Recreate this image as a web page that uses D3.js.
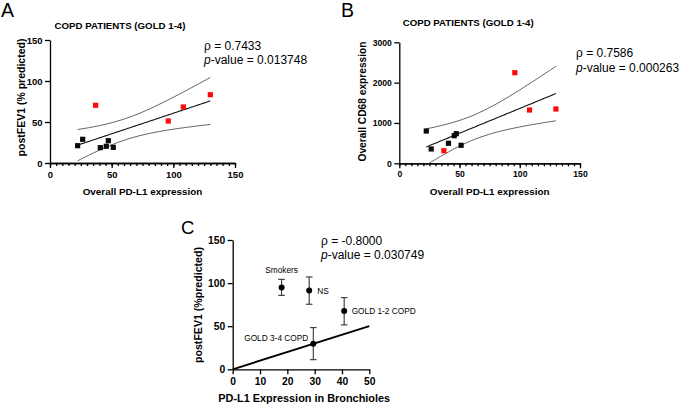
<!DOCTYPE html>
<html><head><meta charset="utf-8">
<script src="https://cdn.jsdelivr.net/npm/d3@7"></script>
<style>
body{margin:0;background:#fff;}
svg{display:block;font-family:"Liberation Sans",Arial,Helvetica,sans-serif;}
.ax path,.ax line{stroke:#000;stroke-width:1.3px;}
.ax text{font-weight:bold;fill:#000;}
</style></head>
<body>
<svg id="c" width="685" height="406"></svg>
<script>
// ---- Data ----
// Panel A & B: PD-L1 expression (x) per patient; group: 0 = black, 1 = red
const pdl1 = [22.4, 26.5, 40.8, 45.6, 47.3, 51.3, 37.0, 95.9, 108.1, 130.0];
const group = [0, 0, 0, 0, 0, 0, 1, 1, 1, 1];
const fev1A = [21.1, 28.9, 18.7, 20.4, 27.2, 19.1, 70.4, 51.2, 68.3, 83.3];
const cd68B = [801, 355, 496, 684, 734, 446, 312, 2246, 1321, 1346];
const statsA = ["ρ = 0.7433", "0.013748"];
const statsB = ["ρ = 0.7586", "0.000263"];
// Panel C
const groupsC = ["Smokers", "NS", "GOLD 1-2 COPD", "GOLD 3-4 COPD"];
const pdl1C = [17.9, 28.0, 40.8, 29.5];
const fev1C = [95.0, 91.5, 67.5, 29.5];
const errLoC = [85.8, 75.5, 51.5, 11.1];
const errHiC = [104.4, 107.1, 83.1, 48.3];
const lineC = [[0, 0], [50, 50]];
const statsC = ["ρ = -0.8000", "0.030749"];
const tCrit = 2.306; // t(0.975, df = 8)

const svg = d3.select("#c");

function regression(xs, ys) {
  const n = xs.length, mx = d3.mean(xs), my = d3.mean(ys);
  let sxx = 0, sxy = 0;
  xs.forEach((x, i) => { sxx += (x - mx) ** 2; sxy += (x - mx) * (ys[i] - my); });
  const b = sxy / sxx, a = my - b * mx;
  let sse = 0;
  xs.forEach((x, i) => { sse += (ys[i] - (a + b * x)) ** 2; });
  const s = Math.sqrt(sse / (n - 2));
  return { a, b, band: x => tCrit * s * Math.sqrt(1 / n + (x - mx) ** 2 / sxx) };
}

function stats(x, y, lines, fs) {
  const t = svg.append("g").attr("font-size", fs);
  t.append("text").attr("x", x).attr("y", y).text(lines[0]);
  const p = t.append("text").attr("x", x).attr("y", y + 14.2);
  p.append("tspan").attr("font-style", "italic").text("p");
  p.append("tspan").text("-value = " + lines[1]);
}

function styleAxis(g, fs) {
  g.attr("font-family", null).attr("font-size", fs);
}

function scatterPanel(o) {
  const x = d3.scaleLinear().domain([0, 150]).range([o.x0, o.x1]);
  const y = d3.scaleLinear().domain([0, o.ymax]).range([o.y0, o.y1]);
  svg.append("g").attr("class", "ax").attr("transform", `translate(0,${o.y0})`)
    .call(d3.axisBottom(x).tickValues(d3.range(0, 151, 5)).tickSize(3).tickSizeOuter(0).tickFormat(""));
  svg.append("g").attr("class", "ax").attr("transform", `translate(0,${o.y0})`)
    .call(d3.axisBottom(x).tickValues([0, 50, 100, 150]).tickSize(5).tickSizeOuter(0).tickPadding(3))
    .call(styleAxis, o.tfs);
  svg.append("g").attr("class", "ax").attr("transform", `translate(${o.x0},0)`)
    .call(d3.axisLeft(y).tickValues(o.yt).tickFormat(d3.format("d")).tickSize(5).tickSizeOuter(0).tickPadding(2.5))
    .call(styleAxis, o.tfs);

  const r = regression(pdl1, o.ys);
  const xs = d3.range(0, 101).map(i => d3.min(pdl1) + (d3.max(pdl1) - d3.min(pdl1)) * i / 100);
  const ln = d3.line().x(d => x(d[0])).y(d => y(d[1]));
  svg.append("path").attr("d", ln(xs.map(v => [v, r.a + r.b * v]))).attr("fill", "none").attr("stroke", "#111").attr("stroke-width", 1.1);
  svg.append("path").attr("d", ln(xs.map(v => [v, r.a + r.b * v + r.band(v)]))).attr("fill", "none").attr("stroke", "#333").attr("stroke-width", 0.8);
  svg.append("path").attr("d", ln(xs.map(v => [v, r.a + r.b * v - r.band(v)]))).attr("fill", "none").attr("stroke", "#333").attr("stroke-width", 0.8);

  const sz = 5.2;
  svg.append("g").selectAll("rect").data(pdl1).join("rect")
    .attr("x", (d) => x(d) - sz / 2).attr("y", (d, i) => y(o.ys[i]) - sz / 2)
    .attr("width", sz).attr("height", sz)
    .attr("fill", (d, i) => group[i] ? "#ff0a0a" : "#0a0a0a");

  svg.append("text").attr("x", o.lx).attr("y", 17).attr("font-size", 19.5).text(o.letter);
  svg.append("text").attr("x", (o.x0 + o.x1) / 2 + o.tdx).attr("y", o.ty).attr("text-anchor", "middle")
    .attr("font-size", 9.7).attr("font-weight", "bold").text("COPD PATIENTS (GOLD 1-4)");
  svg.append("text").attr("x", (o.x0 + o.x1) / 2).attr("y", 194.5).attr("text-anchor", "middle")
    .attr("font-size", 9.9).attr("font-weight", "bold").text("Overall PD-L1 expression");
  svg.append("text").attr("transform", `translate(${o.ylx},${o.ylc}) rotate(-90)`).attr("text-anchor", "middle")
    .attr("font-size", o.ylfs).attr("font-weight", "bold").text(o.ylab);
  stats(o.sx, o.sy, o.stats, 12);
}

scatterPanel({ x0: 50, x1: 235, y0: 163, y1: 40, ymax: 150, yt: [0, 50, 100, 150], ys: fev1A, tfs: 9.5,
  letter: "A", lx: 1, ty: 28.5, tdx: -22.5, ylab: "postFEV1 (% predicted)", ylx: 24.5, ylc: 97.5, ylfs: 10.5,
  sx: 204, sy: 50, stats: statsA });
scatterPanel({ x0: 399.3, x1: 580, y0: 163.3, y1: 42.3, ymax: 3000, yt: [0, 1000, 2000, 3000], ys: cd68B, tfs: 8.6,
  letter: "B", lx: 341, ty: 26, tdx: -21.5, ylab: "Overall CD68 expression", ylx: 366, ylc: 101.5, ylfs: 10.2,
  sx: 576, sy: 57.3, stats: statsB });

// ---- Panel C ----
(function () {
  const x = d3.scaleLinear().domain([0, 50]).range([232.7, 369.3]);
  const y = d3.scaleLinear().domain([0, 150]).range([369.3, 240]);
  svg.append("g").attr("class", "ax").attr("transform", "translate(0,369.3)")
    .call(d3.axisBottom(x).tickValues([0, 10, 20, 30, 40, 50]).tickSize(5).tickSizeOuter(0).tickPadding(3.5))
    .call(styleAxis, 10.3);
  svg.append("g").attr("class", "ax").attr("transform", "translate(232.7,0)")
    .call(d3.axisLeft(y).tickValues([0, 50, 100, 150]).tickSize(5).tickSizeOuter(0).tickPadding(2.5))
    .call(styleAxis, 10.3);
  svg.append("path").attr("d", d3.line().x(d => x(d[0])).y(d => y(d[1]))(lineC))
    .attr("stroke", "#000").attr("stroke-width", 1.9).attr("fill", "none");
  const g = svg.append("g");
  groupsC.forEach((name, i) => {
    const cx = x(pdl1C[i]);
    g.append("line").attr("x1", cx).attr("x2", cx).attr("y1", y(errLoC[i])).attr("y2", y(errHiC[i])).attr("stroke", "#222").attr("stroke-width", 1);
    [errLoC[i], errHiC[i]].forEach(v => g.append("line").attr("x1", cx - 3.3).attr("x2", cx + 3.3).attr("y1", y(v)).attr("y2", y(v)).attr("stroke", "#222").attr("stroke-width", 1));
    g.append("circle").attr("cx", cx).attr("cy", y(fev1C[i])).attr("r", 3).attr("fill", "#000");
  });
  const lab = svg.append("g").attr("font-size", 8.3);
  lab.append("text").attr("x", x(pdl1C[0])).attr("y", y(fev1C[0]) - 14).attr("text-anchor", "middle").text(groupsC[0]);
  lab.append("text").attr("x", x(pdl1C[1]) + 8).attr("y", y(fev1C[1]) + 3.5).text(groupsC[1]);
  lab.append("text").attr("x", x(pdl1C[2]) + 7.5).attr("y", y(fev1C[2]) + 3).text(groupsC[2]);
  lab.append("text").attr("x", x(pdl1C[3]) - 5).attr("y", y(fev1C[3]) - 3).attr("text-anchor", "end").text(groupsC[3]);

  svg.append("text").attr("x", 181).attr("y", 233.5).attr("font-size", 18.5).text("C");
  svg.append("text").attr("x", 304.2).attr("y", 402.3).attr("text-anchor", "middle")
    .attr("font-size", 10.9).attr("font-weight", "bold").text("PD-L1 Expression in Bronchioles");
  svg.append("text").attr("transform", "translate(201.5,305) rotate(-90)").attr("text-anchor", "middle")
    .attr("font-size", 10.6).attr("font-weight", "bold").text("postFEV1 (%predicted)");
  stats(321, 245, statsC, 12);
})();
</script>
</body></html>
